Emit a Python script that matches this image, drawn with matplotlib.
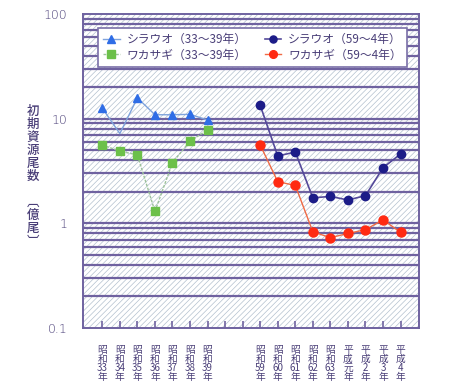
import matplotlib
matplotlib.use("Agg")
import matplotlib.pyplot as plt
from matplotlib.patches import Rectangle
from matplotlib.ticker import FixedLocator, NullFormatter, NullLocator
import numpy as np

plt.rcParams['font.family'] = ['Noto Sans CJK JP', 'DejaVu Sans']

# Categories (x positions 0..17; 7 and 8 unlabeled)
early_labels = ["昭\n和\n33\n年", "昭\n和\n34\n年", "昭\n和\n35\n年", "昭\n和\n36\n年",
                "昭\n和\n37\n年", "昭\n和\n38\n年", "昭\n和\n39\n年"]
late_labels = ["昭\n和\n59\n年", "昭\n和\n60\n年", "昭\n和\n61\n年", "昭\n和\n62\n年",
               "昭\n和\n63\n年", "平\n成\n元\n年", "平\n成\n2\n年", "平\n成\n3\n年", "平\n成\n4\n年"]
early_x = [0, 1, 2, 3, 4, 5, 6]
late_x = [9, 10, 11, 12, 13, 14, 15, 16, 17]

# Series values (億尾)
shirauo_early = [12.6, 7.2, 15.8, 10.9, 10.9, 11.0, 9.7]
wakasagi_early = [5.6, 4.9, 4.5, 1.30, 3.8, 6.1, 7.8]
shirauo_late = [13.4, 4.4, 4.8, 1.75, 1.81, 1.67, 1.84, 3.4, 4.6]
wakasagi_late = [5.6, 2.5, 2.3, 0.83, 0.73, 0.80, 0.87, 1.08, 0.82]

purple = '#6f62a0'
txtc = '#4a3f78'

fig = plt.figure(figsize=(4.62, 3.87), dpi=100)
ax = fig.add_axes([83/462, 1-328/387, (419-83)/462, (328-14)/387])
ax.set_yscale('log')
ax.set_ylim(0.1, 100)
ax.set_xlim(-1.1, 18.05)

# hatched background
plt.rcParams['hatch.color'] = '#b3c1cf'
plt.rcParams['hatch.linewidth'] = 0.5
ax.add_patch(Rectangle((0, 0), 1, 1, transform=ax.transAxes, facecolor='white',
                       edgecolor='#b3c1cf', hatch='//////', lw=0, zorder=0))

# grid lines at 1..9 x decade
for dec in [0.1, 1, 10]:
    for m in range(1, 10):
        v = dec * m
        if 0.1 < v < 100:
            ax.axhline(v, color=purple, lw=1.6, zorder=1)

ax.plot(early_x, shirauo_early, color='#7fa3dc', lw=1.0, marker='^', ms=6,
        mfc='#2f6de6', mec='#2f6de6', markevery=[0, 2, 3, 4, 5, 6], zorder=3,
        label='シラウオ（33～39年）')
ax.plot(early_x, wakasagi_early, color='#9cc29a', lw=1.0, ls=(0, (2, 1)), marker='s', ms=6,
        mfc='#6cc04a', mec='#6cc04a', zorder=3, label='ワカサギ（33～39年）')
ax.plot(late_x, shirauo_late, color='#54499a', lw=1.2, marker='o', ms=6,
        mfc='#1c1c88', mec='#1c1c88', zorder=3, label='シラウオ（59～4年）')
ax.plot(late_x, wakasagi_late, color='#f06a44', lw=1.0, marker='o', ms=6.5,
        mfc='#ff2a12', mec='#ff2a12', zorder=3, label='ワカサギ（59～4年）')

# ticks
ax.yaxis.set_major_locator(FixedLocator([0.1, 1, 10, 100]))
ax.set_yticklabels(['0.1', '1', '10', '100'])
ax.yaxis.set_minor_locator(NullLocator())
ax.yaxis.set_minor_formatter(NullFormatter())
ax.tick_params(axis='y', length=0, pad=11, labelsize=9, labelcolor=txtc)
for t in ax.get_yticklabels():
    t.set_fontfamily('DejaVu Sans')
    t.set_fontweight('light')

all_x = list(range(0, 18))
ax.set_xticks(all_x)
lbls = [''] * 18
for x, l in zip(early_x, early_labels):
    lbls[x] = l
for x, l in zip(late_x, late_labels):
    lbls[x] = l
ax.set_xticklabels(lbls, fontsize=7, color=txtc, linespacing=0.88, va='top')
ax.tick_params(axis='x', direction='in', length=5, width=1.2, color=purple, pad=12)

for s in ax.spines.values():
    s.set_color(purple)
    s.set_linewidth(1.4)

leg = ax.legend(ncol=2, loc='upper left', bbox_to_anchor=(9/336, 1-50/314, 321/336, 42/314),
                mode='expand', fontsize=8.5, frameon=True, fancybox=False,
                handlelength=1.4, handletextpad=0.6, columnspacing=1.0, borderpad=0.45,
                labelspacing=0.2, markerscale=0.85, labelcolor=txtc, framealpha=1)
leg.get_frame().set_edgecolor('#7a70a8')
leg.get_frame().set_linewidth(1.2)
leg.set_zorder(5)

fig.text(33/462, 1-176/387, "初\n期\n資\n源\n尾\n数\n\n︹\n億\n尾\n︺", ha='center', va='center',
         fontsize=9, color=txtc, linespacing=1.0, fontweight='medium')

fig.savefig('out.png', dpi=100)
